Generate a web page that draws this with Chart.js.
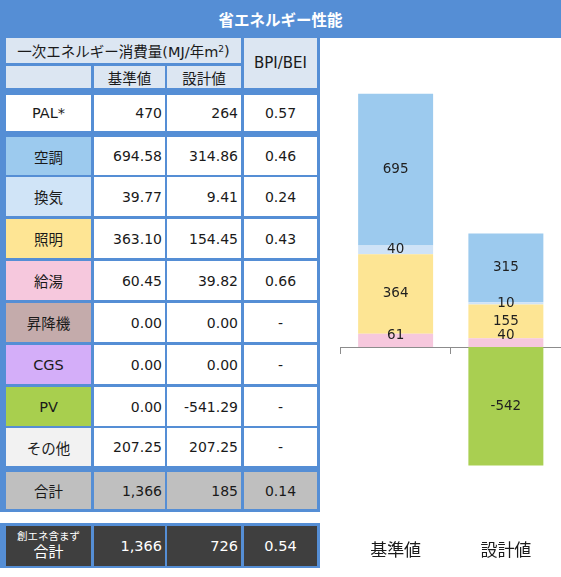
<!DOCTYPE html>
<html>
<head>
<meta charset="utf-8">
<script src="https://cdn.jsdelivr.net/npm/chart.js@4/dist/chart.umd.min.js"></script>
<style>
  body { margin: 0; background: #fff; }
  #page { position: relative; width: 561px; height: 577px; overflow: hidden;
          font-family: "DejaVu Sans", "Noto Sans CJK JP", sans-serif; color: #1a1a1a; }
  .title { position: absolute; left: 0; top: 0; width: 561px; height: 38px; background: #558ed5;
           color: #fff; font: bold 15.5px "Noto Sans CJK JP", sans-serif; display: flex;
           align-items: center; justify-content: center; }
  .panel { position: absolute; background: #558ed5; }
  .cell { position: absolute; display: flex; align-items: center; justify-content: center;
          font-size: 14px; box-sizing: border-box; white-space: nowrap; }
  .num { justify-content: flex-end; padding-right: 3px; }
  .hd { background: #dce6f2; }
  .cell sup { font-size: 9px; position: relative; top: -2px; }
  .dark { background: #3f3f3f; color: #fff; }
  #chartBox { position: absolute; left: 320px; top: 38px; width: 241px; height: 539px; }
</style>
</head>
<body>
<div id="page">
  <div class="title">省エネルギー性能</div>
  <div class="panel" style="left:0;top:38px;width:320px;height:474px"></div>
  <div class="panel" style="left:0;top:523px;width:320px;height:45px"></div>
  <div id="chartBox"><canvas id="chart"></canvas></div>
</div>
<script>
// table values
const rowNames = ["PAL*", "空調", "換気", "照明", "給湯", "昇降機", "CGS", "PV", "その他", "合計"];
const rowColors = ["#ffffff", "#9ccaee", "#d0e4f7", "#fee594", "#f6c8dd", "#c4abab", "#d4aef9", "#a8cf4e", "#f2f2f2", "#bfbfbf"];
const baseValues = ["470", "694.58", "39.77", "363.10", "60.45", "0.00", "0.00", "0.00", "207.25", "1,366"];
const designValues = ["264", "314.86", "9.41", "154.45", "39.82", "0.00", "0.00", "-541.29", "207.25", "185"];
const ratioValues = ["0.57", "0.46", "0.24", "0.43", "0.66", "-", "-", "-", "-", "0.14"];
const totalRow = ["1,366", "726", "0.54"];

// chart values
const categories = ["基準値", "設計値"];
const hotWater = [61, 40];
const lighting = [364, 155];
const ventilation = [40, 10];
const airCon = [695, 315];
const solar = [0, -542];

const page = document.getElementById('page');
const colX = [6, 94, 167, 244];
const colW = [85, 71, 74, 73];

function cell(x, y, w, h, html, cls, bg) {
  const d = document.createElement('div');
  d.className = 'cell ' + (cls || '');
  d.style.cssText = `left:${x}px;top:${y}px;width:${w}px;height:${h}px;` + (bg ? `background:${bg};` : '');
  d.innerHTML = html;
  page.appendChild(d);
  return d;
}

// header
cell(6, 38, 235, 25, '一次エネルギー消費量(MJ/年m<sup>2</sup>)', 'hd').style.fontSize = '14.5px';
cell(244, 38, 73, 50, 'BPI/BEI', 'hd').style.fontSize = '15px';
cell(colX[0], 66, colW[0], 22, '', 'hd');
cell(colX[1], 66, colW[1], 22, '基準値', 'hd').style.fontSize = '14.5px';
cell(colX[2], 66, colW[2], 22, '設計値', 'hd').style.fontSize = '14.5px';

const rowTop = [95, 137, 177, 219, 261, 303, 345, 387, 428, 472];
const rowH = [36, 38, 39, 39, 39, 39, 39, 39, 38, 37];
rowNames.forEach((name, i) => {
  const last = i === rowNames.length - 1;
  const bg = last ? rowColors[i] : '#ffffff';
  cell(colX[0], rowTop[i], colW[0], rowH[i], name, '', rowColors[i]).style.fontSize = '14.5px';
  cell(colX[1], rowTop[i], colW[1], rowH[i], baseValues[i], 'num', bg);
  cell(colX[2], rowTop[i], colW[2], rowH[i], designValues[i], 'num', bg);
  cell(colX[3], rowTop[i], colW[3], rowH[i], ratioValues[i], '', bg);
});

// total without energy generation
cell(colX[0], 526, colW[0], 40, '<div style="text-align:center;line-height:1.25"><div style="font-size:10.5px">創エネ含まず</div><div style="font-size:15px">合計</div></div>', 'dark');
cell(colX[1], 526, colW[1], 40, totalRow[0], 'num dark').style.fontSize = '14.5px';
cell(colX[2], 526, colW[2], 40, totalRow[1], 'num dark').style.fontSize = '14.5px';
cell(colX[3], 526, colW[3], 40, totalRow[2], 'dark').style.fontSize = '14.5px';

const barLabels = {
  id: 'barLabels',
  afterDatasetsDraw(chart) {
    const ctx = chart.ctx;
    const zero = chart.scales.y.getPixelForValue(0);
    ctx.save();
    ctx.font = '13.5px "DejaVu Sans"';
    ctx.fillStyle = '#1f1f1f';
    ctx.textAlign = 'center';
    ctx.textBaseline = 'middle';
    chart.data.datasets.forEach((ds, i) => {
      chart.getDatasetMeta(i).data.forEach((bar, j) => {
        const v = ds.data[j];
        if (!v) return;
        let y = (bar.y + bar.base) / 2;
        if (v > 0) y = Math.min(y, zero - 12);
        ctx.fillText(String(v), bar.x, y);
      });
    });
    ctx.restore();
  }
};

new Chart(document.getElementById('chart'), {
  type: 'bar',
  data: {
    labels: categories,
    datasets: [
      { label: '給湯', data: hotWater, backgroundColor: '#f6c8dd' },
      { label: '照明', data: lighting, backgroundColor: '#fde594' },
      { label: '換気', data: ventilation, backgroundColor: '#cfe3f7' },
      { label: '空調', data: airCon, backgroundColor: '#9ccaee' },
      { label: 'PV', data: solar, backgroundColor: '#a9cf51' }
    ].map(d => Object.assign(d, { xAxisID: 'x', categoryPercentage: 1, barPercentage: 0.68 }))
  },
  options: {
    responsive: true,
    maintainAspectRatio: false,
    animation: false,
    layout: { padding: { top: 47, bottom: 14, left: 20.5, right: 0 } },
    plugins: { legend: { display: false }, tooltip: { enabled: false } },
    scales: {
      x: {
        stacked: true,
        position: { y: 0 },
        offset: true,
        ticks: { display: false },
        grid: { display: true, drawOnChartArea: false, drawTicks: true, tickLength: 6, color: '#8c8c8c', offset: true },
        border: { display: true, color: '#8c8c8c', width: 1 }
      },
      x2: {
        type: 'category',
        axis: 'x',
        position: 'bottom',
        offset: true,
        grid: { display: false, drawTicks: false },
        border: { display: false },
        ticks: { color: '#1a1a1a', padding: 3, font: { family: 'Noto Sans CJK JP', size: 17 } }
      },
      y: {
        stacked: true,
        display: false,
        min: -868,
        max: 1200
      }
    }
  },
  plugins: [barLabels]
});
</script>
</body>
</html>
